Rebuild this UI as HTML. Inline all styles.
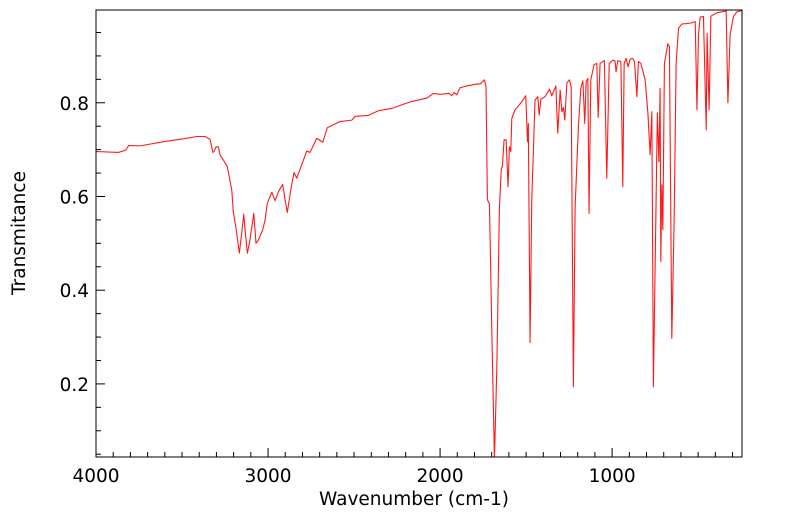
<!DOCTYPE html>
<html><head><meta charset="utf-8"><style>
html,body{margin:0;padding:0;background:#fff;width:799px;height:516px;overflow:hidden}
svg{display:block;font-family:"DejaVu Sans","Liberation Sans",sans-serif}
</style></head><body>
<svg id="chart" width="799" height="516"></svg>
<script>
const wavenumbers=[4000,3870,3826,3810,3744,3589,3492,3415,3366,3337,3321,3314,3302,3289,3279,3260,3237,3211,3202,3182,3167,3153,3141,3132,3120,3105,3083,3070,3056,3031,3017,3004,2978,2959,2940,2915,2901,2888,2868,2849,2833,2775,2756,2717,2682,2655,2581,2513,2494,2417,2359,2281,2174,2077,2039,2000,1946,1932,1919,1903,1884,1845,1787,1767,1742,1733,1725,1713,1699,1684,1670,1655,1644,1638,1628,1616,1605,1597,1589,1583,1564,1525,1502,1492,1487,1477,1467,1448,1432,1424,1414,1390,1364,1351,1327,1316,1302,1292,1283,1275,1263,1248,1238,1225,1215,1196,1182,1170,1159,1151,1141,1134,1124,1105,1089,1081,1070,1045,1031,1017,996,983,977,967,949,938,930,919,907,895,882,870,856,847,833,808,792,779,769,760,750,737,728,721,717,711,705,696,676,667,653,639,628,614,595,546,517,507,498,488,469,453,448,436,426,391,337,327,314,295,275,237];
const transmittance=[0.696,0.694,0.699,0.709,0.708,0.718,0.723,0.728,0.728,0.722,0.694,0.696,0.706,0.706,0.689,0.678,0.664,0.614,0.568,0.522,0.479,0.522,0.562,0.522,0.479,0.507,0.564,0.500,0.507,0.529,0.550,0.586,0.609,0.591,0.610,0.626,0.593,0.566,0.614,0.651,0.639,0.697,0.694,0.724,0.716,0.747,0.760,0.763,0.771,0.773,0.783,0.788,0.802,0.810,0.820,0.818,0.820,0.815,0.822,0.817,0.832,0.836,0.840,0.840,0.849,0.834,0.593,0.584,0.309,0.038,0.237,0.578,0.660,0.664,0.721,0.721,0.621,0.706,0.696,0.767,0.785,0.802,0.815,0.717,0.756,0.288,0.593,0.806,0.813,0.774,0.808,0.813,0.829,0.815,0.836,0.735,0.827,0.781,0.790,0.763,0.842,0.849,0.834,0.194,0.578,0.749,0.831,0.847,0.756,0.845,0.852,0.564,0.849,0.881,0.884,0.769,0.884,0.890,0.639,0.884,0.891,0.889,0.866,0.890,0.888,0.621,0.884,0.895,0.877,0.893,0.895,0.888,0.813,0.888,0.884,0.849,0.778,0.689,0.781,0.194,0.450,0.778,0.674,0.831,0.461,0.625,0.529,0.884,0.926,0.920,0.297,0.557,0.884,0.959,0.968,0.970,0.973,0.785,0.945,0.983,0.984,0.742,0.948,0.785,0.985,0.992,0.996,0.800,0.945,0.984,0.994,0.998];
const xTicks=[4000,3000,2000,1000];
const yTicks=[0.2,0.4,0.6,0.8];
const xMin=245,xMax=4000,yMin=0.044,yMax=0.998;
const L=96,R=742,T=10,B=457;
const NS="http://www.w3.org/2000/svg";
const svg=document.getElementById('chart');
function sx(w){return L+(xMax-w)/(xMax-xMin)*(R-L);}
function sy(v){return B-(v-yMin)/(yMax-yMin)*(B-T);}
function mk(tag,attrs){const e=document.createElementNS(NS,tag);for(const k in attrs)e.setAttribute(k,attrs[k]);svg.appendChild(e);return e;}
const defs=mk('defs',{});
const cp=document.createElementNS(NS,'clipPath');cp.setAttribute('id','clip');
const cr=document.createElementNS(NS,'rect');cr.setAttribute('x',L);cr.setAttribute('y',T);cr.setAttribute('width',R-L);cr.setAttribute('height',B-T);
cp.appendChild(cr);defs.appendChild(cp);
let d='';
for(let i=0;i<wavenumbers.length;i++){d+=(i?'L':'M')+sx(wavenumbers[i]).toFixed(2)+','+sy(transmittance[i]).toFixed(2);}
const line=mk('path',{d:d,fill:'none',stroke:'#ff1a1a','stroke-width':1.1,'clip-path':'url(#clip)','stroke-linejoin':'round'});


const frame=mk('rect',{x:L,y:T,width:R-L,height:B-T,fill:'none',stroke:'#000','stroke-width':1});


for(let w=300;w<=4000;w+=100){const x=sx(w);const major=w%1000===0;
 const t=mk('line',{x1:x,x2:x,y1:B,y2:B-(major?9:5),stroke:'#000','stroke-width':1});
 
 }
xTicks.forEach(w=>{const t=mk('text',{x:sx(w),y:482,'text-anchor':'middle','font-size':18.5,fill:'#000'});t.textContent=w;
 
 });
for(let k=1;k<=19;k++){const v=k*0.05;if(v<yMin||v>yMax)continue;const y=sy(v);const major=k%4===0;
 const t=mk('line',{x1:L,x2:L+(major?9:5),y1:y,y2:y,stroke:'#000','stroke-width':1});
 
 }
yTicks.forEach(v=>{const t=mk('text',{x:89,y:sy(v)+7,'text-anchor':'end','font-size':18.5,fill:'#000'});t.textContent=v.toFixed(1);
 
 });
const xt=mk('text',{x:414,y:505,'text-anchor':'middle','font-size':18.5,fill:'#000'});xt.textContent='Wavenumber (cm-1)';


const yt=mk('text',{x:0,y:0,'text-anchor':'middle','font-size':18.5,fill:'#000',transform:'translate(25,233) rotate(-90)'});yt.textContent='Transmitance';


</script>
</body></html>
